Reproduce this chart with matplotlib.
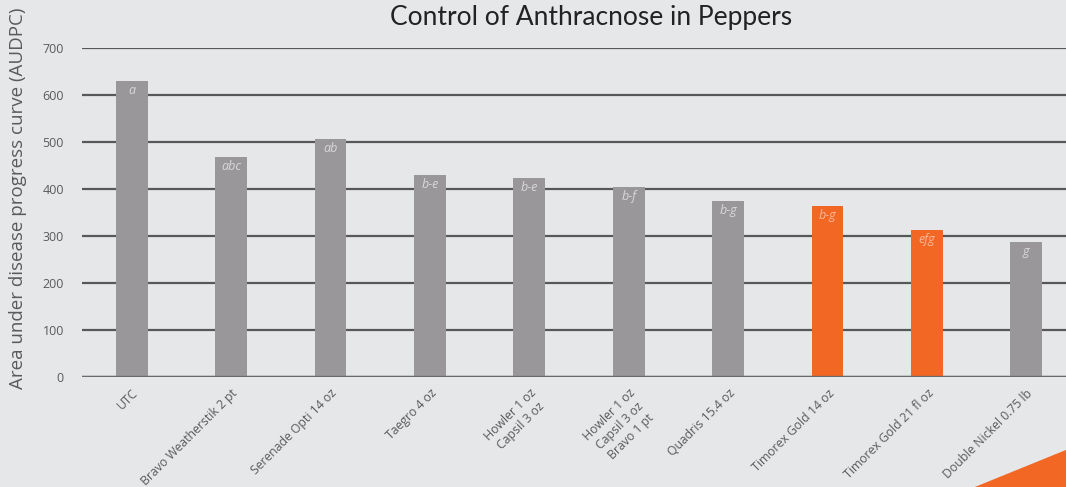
import matplotlib.pyplot as plt
from matplotlib.patches import Polygon

# data
treatments = ['UTC', 'Bravo Weatherstik 2 pt', 'Serenade Opti 14 oz', 'Taegro 4 oz',
              'Howler 1 oz\nCapsil 3 oz', 'Howler 1 oz\nCapsil 3 oz\nBravo 1 pt',
              'Quadris 15.4 oz', 'Timorex Gold 14 oz', 'Timorex Gold 21 fl oz',
              'Double Nickel 0.75 lb']
audpc = [630, 468, 506, 430, 424, 404, 375, 364, 313, 287]
letters = ['a', 'abc', 'ab', 'b-e', 'b-e', 'b-f', 'b-g', 'b-g', 'efg', 'g']
highlight = [False] * 7 + [True, True, False]
yticks = [0, 100, 200, 300, 400, 500, 600, 700]

bg = '#e6e7e9'
grey = '#999799'
orange = '#f26724'
textcol = '#5a5a5a'

plt.rcParams['font.family'] = ['Open Sans', 'DejaVu Sans']

fig = plt.figure(figsize=(10.66, 4.87), dpi=100, facecolor=bg)
ax = fig.add_axes([82 / 1066, 1 - 377 / 487, 1 - 82 / 1066, 329 / 487])
ax.set_facecolor(bg)

x = list(range(len(treatments)))
colors = [orange if h else grey for h in highlight]
ax.bar(x, audpc, width=0.32, color=colors, zorder=3)

for xi, v, lab, h in zip(x, audpc, letters, highlight):
    ax.text(xi, v - 7, lab, ha='center', va='top', style='italic', fontsize=9,
            color='#fab79a' if h else '#d8d7d9', zorder=4)

ax.set_xlim(-0.5, 9.4)
ax.set_ylim(0, 700)
ax.set_yticks(yticks)
ax.yaxis.grid(True, color='#58585a', linewidth=1.6)
ax.set_axisbelow(True)
for s in ax.spines.values():
    s.set_visible(False)
ax.axhline(0, color='#6a6a6a', linewidth=2.4, zorder=4)

ax.tick_params(axis='y', length=0, pad=13, labelsize=9, labelcolor=textcol)
ax.tick_params(axis='x', length=0, pad=7, labelsize=8.8, labelcolor=textcol)
ax.set_xticks(x)
ax.set_xticklabels(treatments, rotation=45, ha='right', va='top',
                   rotation_mode='anchor', multialignment='center')

ax.set_ylabel('Area under disease progress curve (AUDPC)', fontsize=13.5,
              color=textcol)
ax.yaxis.set_label_coords(-55 / 984, (377 - 198) / 329)

fig.text(591 / 1066, 1 - 17 / 487, 'Control of Anthracnose in Peppers',
         ha='center', va='center', fontsize=19, color='#222222',
         family=['Lato', 'DejaVu Sans'])

# orange corner decoration
fig.patches.append(Polygon([[975 / 1066, 0], [1, 0], [1, 37 / 487]],
                           closed=True, transform=fig.transFigure,
                           color=orange, zorder=5))

fig.savefig('out.png', dpi=100, facecolor=bg)
